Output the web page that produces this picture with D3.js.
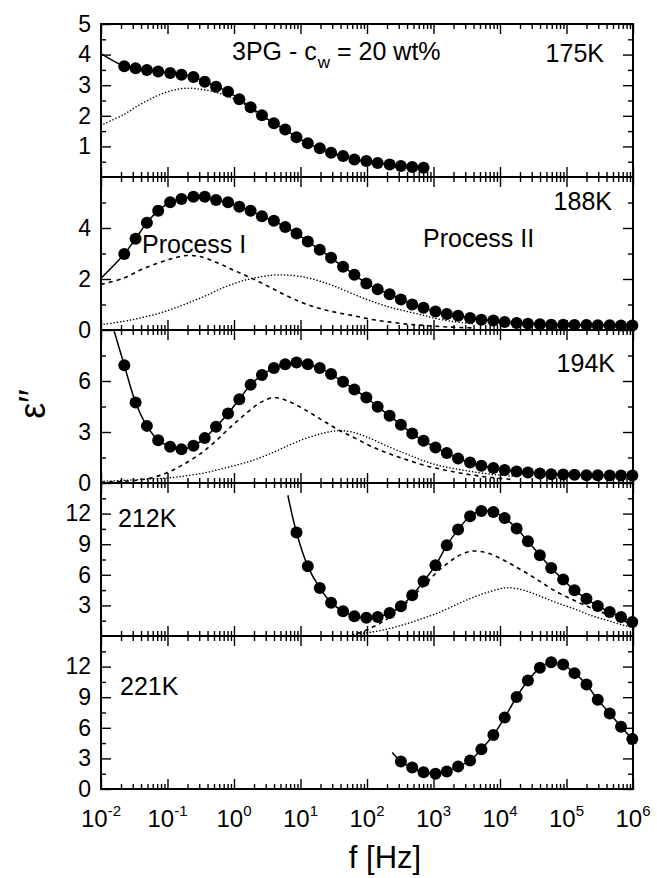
<!DOCTYPE html>
<html>
<head>
<meta charset="utf-8">
<script src="https://cdnjs.cloudflare.com/ajax/libs/d3/7.8.5/d3.min.js"></script>
<style>
  body { margin: 0; background: #fff; }
  svg { display: block; font-family: Arial, "Liberation Sans", Helvetica, sans-serif; }
</style>
</head>
<body>
<div id="wrapper"></div>
<script>
// DATA (frequencies as log10 f)
const logFreq = [-1.65, -1.48, -1.31, -1.14, -0.96, -0.79, -0.61, -0.44, -0.27, -0.09,
  0.08, 0.25, 0.42, 0.60, 0.77, 0.94, 1.11, 1.29, 1.46, 1.64,
  1.81, 1.99, 2.16, 2.34, 2.51, 2.68, 2.85, 3.03, 3.20, 3.37,
  3.55, 3.72, 3.90, 4.07, 4.25, 4.42, 4.60, 4.77, 4.95, 5.12,
  5.30, 5.47, 5.65, 5.82, 5.99];

const eps175 = [3.62, 3.55, 3.50, 3.45, 3.40, 3.34, 3.27, 3.11, 2.95, 2.79, 2.54, 2.28, 2.02, 1.76,
  1.55, 1.30, 1.10, 0.94, 0.79, 0.69, 0.57, 0.52, 0.46, 0.41, 0.36, 0.33, 0.30];
const eps188 = [2.98, 3.58, 4.21, 4.68, 5.01, 5.14, 5.23, 5.23, 5.10, 5.01, 4.83, 4.68, 4.46, 4.28,
  4.04, 3.78, 3.47, 3.15, 2.83, 2.48, 2.17, 1.82, 1.60, 1.40, 1.20, 1.00, 0.87, 0.73, 0.63, 0.56,
  0.47, 0.40, 0.37, 0.31, 0.27, 0.25, 0.23, 0.21, 0.21, 0.20, 0.20, 0.19, 0.19, 0.18, 0.18];
const eps194 = [6.93, 4.74, 3.36, 2.52, 2.13, 1.99, 2.19, 2.64, 3.31, 4.09, 4.93, 5.78, 6.35, 6.76,
  6.99, 7.09, 6.99, 6.76, 6.41, 5.95, 5.50, 5.03, 4.48, 3.95, 3.42, 2.91, 2.48, 2.09, 1.76, 1.44,
  1.21, 1.01, 0.88, 0.76, 0.68, 0.62, 0.56, 0.52, 0.50, 0.48, 0.46, 0.46, 0.44, 0.44, 0.44];
const eps212 = [10.14, 6.83, 4.71, 3.27, 2.43, 1.93, 1.80, 1.87, 2.26, 2.91, 3.99, 5.36, 6.93, 8.89,
  10.43, 11.74, 12.25, 12.16, 11.57, 10.53, 9.28, 7.91, 6.67, 5.53, 4.48, 3.66, 2.94, 2.35, 1.86, 1.37];
const eps221 = [2.69, 2.10, 1.65, 1.49, 1.71, 2.20, 2.79, 3.89, 5.29, 7.01, 9.02, 10.64, 11.88, 12.43,
  12.20, 11.36, 10.25, 8.76, 7.40, 6.10, 4.90];

// index into logFreq of the first point of each series
const firstIndex = [0, 0, 0, 15, 24];

// fit curves [log10 f, eps'']
const solidStart175 = [[-2.0, 4.03]];
const solidStart188 = [[-2.0, 2.03]];
const solidStart194 = [[-1.83, 9.3]];
const solidStart212 = [[0.81, 13.8]];
const solidStart221 = [[2.38, 3.57]];

const dotted175 = [[-2.0, 1.69], [-1.66, 2.04], [-1.41, 2.37], [-1.16, 2.65], [-0.91, 2.84], [-0.71, 2.90],
  [-0.51, 2.87], [-0.31, 2.79], [-0.11, 2.65], [0.08, 2.48], [0.25, 2.24], [0.5, 1.88], [1.0, 1.22],
  [1.5, 0.74], [2.0, 0.46], [2.5, 0.30], [2.85, 0.22]];

const dashed188 = [[-2.0, 1.79], [-1.66, 2.03], [-1.41, 2.35], [-1.16, 2.61], [-0.91, 2.82], [-0.71, 2.92],
  [-0.51, 2.88], [-0.26, 2.65], [-0.01, 2.35], [0.24, 2.06], [0.50, 1.73], [0.75, 1.40], [1.0, 1.10],
  [1.25, 0.87], [1.5, 0.71], [1.8, 0.56], [2.1, 0.40], [2.35, 0.31], [2.6, 0.23], [2.85, 0.18],
  [3.2, 0.12], [3.6, 0.08]];
const dotted188 = [[-2.0, 0.21], [-1.66, 0.34], [-1.41, 0.47], [-1.16, 0.63], [-0.91, 0.84], [-0.66, 1.09],
  [-0.41, 1.36], [-0.16, 1.66], [0.09, 1.90], [0.34, 2.06], [0.59, 2.15], [0.77, 2.16], [1.0, 2.10],
  [1.25, 1.95], [1.5, 1.73], [1.8, 1.40], [2.1, 1.10], [2.35, 0.89], [2.6, 0.73], [2.85, 0.58],
  [3.0, 0.47], [3.3, 0.33], [3.6, 0.24]];

const dashed194 = [[-2.0, 0.05], [-1.66, 0.10], [-1.3, 0.25], [-1.0, 0.62], [-0.8, 1.01], [-0.55, 1.60],
  [-0.3, 2.38], [-0.05, 3.30], [0.2, 4.15], [0.4, 4.74], [0.6, 5.03], [0.8, 4.84], [1.05, 4.35],
  [1.30, 3.76], [1.55, 3.17], [1.80, 2.68], [2.10, 2.09], [2.35, 1.70], [2.60, 1.36], [2.85, 1.05],
  [3.10, 0.82], [3.35, 0.62], [3.60, 0.46], [3.85, 0.33], [4.2, 0.20]];
const dotted194 = [[-2.0, 0.10], [-1.41, 0.20], [-0.91, 0.33], [-0.66, 0.46], [-0.41, 0.62], [-0.16, 0.86],
  [0.09, 1.11], [0.34, 1.41], [0.59, 1.80], [0.84, 2.25], [1.09, 2.64], [1.34, 2.93], [1.55, 3.07],
  [1.75, 3.02], [2.0, 2.70], [2.35, 2.09], [2.60, 1.70], [2.85, 1.31], [3.10, 1.01], [3.35, 0.82],
  [3.6, 0.66], [3.9, 0.50], [4.2, 0.40]];

const dashed212 = [[1.85, 0.25], [2.03, 0.70], [2.25, 1.45], [2.50, 2.70], [2.70, 3.95], [2.90, 5.25],
  [3.10, 6.55], [3.30, 7.55], [3.45, 8.10], [3.61, 8.33], [3.81, 8.14], [4.06, 7.42], [4.31, 6.51],
  [4.56, 5.53], [4.81, 4.48], [5.06, 3.66], [5.31, 2.91], [5.56, 2.26], [5.81, 1.61], [6.0, 1.10]];
const dotted212 = [[1.8, 0.15], [2.08, 0.39], [2.35, 0.75], [2.60, 1.21], [2.85, 1.75], [3.10, 2.35],
  [3.35, 3.10], [3.61, 3.82], [3.86, 4.38], [4.11, 4.74], [4.36, 4.48], [4.61, 3.89], [4.86, 3.24],
  [5.11, 2.68], [5.36, 2.03], [5.61, 1.54], [5.86, 1.05], [6.0, 0.82]];

// AXES / LABELS
const temps = [`175K`, `188K`, `194K`, `212K`, `221K`];
const yMax = [5, 6, 9, 15, 15];
const yMajorTicks = [[1, 2, 3, 4, 5], [0, 2, 4], [0, 3, 6], [3, 6, 9, 12], [0, 3, 6, 9, 12]];
const yMinorTicks = [[0.5, 1.5, 2.5, 3.5, 4.5], [1, 3, 5], [1.5, 4.5, 7.5],
  [1.5, 4.5, 7.5, 10.5, 13.5], [1.5, 4.5, 7.5, 10.5, 13.5]];
const decades = [-2, -1, 0, 1, 2, 3, 4, 5, 6];

const seriesValues = [eps175, eps188, eps194, eps212, eps221];
const solidStarts = [solidStart175, solidStart188, solidStart194, solidStart212, solidStart221];
const dashedFits = [null, dashed188, dashed194, dashed212, null];
const dottedFits = [dotted175, dotted188, dotted194, dotted212, null];

// LAYOUT
const W = 657;
const H = 878;
const plotLeft = 101;
const plotRight = 633;
const plotTop = 24;
const panelHeight = 153;

// panel annotations: x, baseline offset from panel top, anchor
const tempLabelPos = [
  { x: 604, dy: 38, anchor: `end` },
  { x: 612, dy: 33, anchor: `end` },
  { x: 615, dy: 42, anchor: `end` },
  { x: 118, dy: 44, anchor: `start` },
  { x: 120, dy: 59, anchor: `start` }
];

const svg = d3.select(`#wrapper`)
  .append(`svg`)
  .attr(`width`, W)
  .attr(`height`, H);

const xScale = d3.scaleLog()
  .domain([1e-2, 1e6])
  .range([plotLeft, plotRight]);

const xMajor = decades.map(d => Math.pow(10, d));
const xMinor = xScale.ticks().filter(t => !xMajor.some(m => Math.abs(m - t) / m < 1e-6));

const styleTicks = g => {
  g.select(`.domain`).remove();
  g.selectAll(`.tick line`).attr(`stroke`, `#000`).attr(`stroke-width`, 1.4);
};

const styleYLabels = g => {
  g.selectAll(`.tick text`)
    .attr(`fill`, `#000`)
    .attr(`font-size`, 23)
    .attr(`font-family`, `Arial, "Liberation Sans", Helvetica, sans-serif`);
};

seriesValues.forEach((values, i) => {
  const top = plotTop + i * panelHeight;
  const bottom = top + panelHeight;
  const yScale = d3.scaleLinear().domain([0, yMax[i]]).range([bottom, top]);
  const g = svg.append(`g`).attr(`class`, `panel`);

  g.append(`clipPath`)
    .attr(`id`, `clip-${i}`)
    .append(`rect`)
    .attr(`x`, plotLeft)
    .attr(`y`, top)
    .attr(`width`, plotRight - plotLeft)
    .attr(`height`, panelHeight);

  // x ticks, top and bottom, pointing inward
  g.append(`g`).attr(`transform`, `translate(0, ${bottom})`)
    .call(d3.axisBottom(xScale).tickValues(xMajor).tickSize(-10).tickFormat(``)).call(styleTicks);
  g.append(`g`).attr(`transform`, `translate(0, ${bottom})`)
    .call(d3.axisBottom(xScale).tickValues(xMinor).tickSize(-5).tickFormat(``)).call(styleTicks);
  g.append(`g`).attr(`transform`, `translate(0, ${top})`)
    .call(d3.axisTop(xScale).tickValues(xMajor).tickSize(-10).tickFormat(``)).call(styleTicks);
  g.append(`g`).attr(`transform`, `translate(0, ${top})`)
    .call(d3.axisTop(xScale).tickValues(xMinor).tickSize(-5).tickFormat(``)).call(styleTicks);

  // y ticks, left with labels, right mirrored
  g.append(`g`).attr(`transform`, `translate(${plotLeft}, 0)`)
    .call(d3.axisLeft(yScale).tickValues(yMajorTicks[i]).tickSize(-10).tickPadding(10).tickFormat(d3.format(`d`)))
    .call(styleTicks).call(styleYLabels);
  g.append(`g`).attr(`transform`, `translate(${plotLeft}, 0)`)
    .call(d3.axisLeft(yScale).tickValues(yMinorTicks[i]).tickSize(-5).tickFormat(``)).call(styleTicks);
  g.append(`g`).attr(`transform`, `translate(${plotRight}, 0)`)
    .call(d3.axisRight(yScale).tickValues(yMajorTicks[i]).tickSize(-10).tickFormat(``)).call(styleTicks);
  g.append(`g`).attr(`transform`, `translate(${plotRight}, 0)`)
    .call(d3.axisRight(yScale).tickValues(yMinorTicks[i]).tickSize(-5).tickFormat(``)).call(styleTicks);

  const line = d3.line()
    .x(d => xScale(Math.pow(10, d[0])))
    .y(d => yScale(d[1]))
    .curve(d3.curveCatmullRom.alpha(0.5));

  const points = values.map((v, k) => [logFreq[firstIndex[i] + k], v]);
  const lines = g.append(`g`).attr(`clip-path`, `url(#clip-${i})`);

  if (dottedFits[i]) {
    lines.append(`path`)
      .attr(`d`, line(dottedFits[i]))
      .attr(`fill`, `none`)
      .attr(`stroke`, `#000`)
      .attr(`stroke-width`, 1.5)
      .attr(`stroke-linecap`, `round`)
      .attr(`stroke-dasharray`, `0.1,3.2`);
  }
  if (dashedFits[i]) {
    lines.append(`path`)
      .attr(`d`, line(dashedFits[i]))
      .attr(`fill`, `none`)
      .attr(`stroke`, `#000`)
      .attr(`stroke-width`, 1.6)
      .attr(`stroke-dasharray`, `4,4`);
  }
  lines.append(`path`)
    .attr(`d`, line(solidStarts[i].concat(points)))
    .attr(`fill`, `none`)
    .attr(`stroke`, `#000`)
    .attr(`stroke-width`, 1.5);

  g.selectAll(`.pt`)
    .data(points)
    .enter()
    .append(`circle`)
    .attr(`class`, `pt`)
    .attr(`cx`, d => xScale(Math.pow(10, d[0])))
    .attr(`cy`, d => yScale(d[1]))
    .attr(`r`, 6)
    .attr(`fill`, `#000`);

  g.append(`rect`)
    .attr(`x`, plotLeft)
    .attr(`y`, top)
    .attr(`width`, plotRight - plotLeft)
    .attr(`height`, panelHeight)
    .attr(`fill`, `none`)
    .attr(`stroke`, `#000`)
    .attr(`stroke-width`, 2);

  const pos = tempLabelPos[i];
  g.append(`text`)
    .attr(`x`, pos.x)
    .attr(`y`, top + pos.dy)
    .attr(`text-anchor`, pos.anchor)
    .attr(`font-size`, 25)
    .text(temps[i]);
});

// ANNOTATIONS
const title = svg.append(`text`)
  .attr(`y`, 60)
  .attr(`font-size`, 25);
title.append(`tspan`).attr(`x`, 232).text(`3PG - c`);
title.append(`tspan`).attr(`dx`, 1).attr(`dy`, 8).attr(`font-size`, 17).text(`w`);
title.append(`tspan`).attr(`dx`, 7).attr(`dy`, -8).text(`= 20 wt%`);

svg.append(`text`)
  .attr(`x`, 142)
  .attr(`y`, plotTop + panelHeight + 76)
  .attr(`font-size`, 25)
  .text(`Process I`);

svg.append(`text`)
  .attr(`x`, 423)
  .attr(`y`, plotTop + panelHeight + 70)
  .attr(`font-size`, 25)
  .text(`Process II`);

// x tick labels 10^n
const bottomY = plotTop + 5 * panelHeight;
const xLabels = svg.append(`g`)
  .selectAll(`text`)
  .data(decades)
  .enter()
  .append(`text`)
  .attr(`x`, d => xScale(Math.pow(10, d)))
  .attr(`y`, bottomY + 38)
  .attr(`text-anchor`, `middle`)
  .attr(`font-size`, 24);
xLabels.append(`tspan`).text(`10`);
xLabels.append(`tspan`).attr(`dy`, -11).attr(`font-size`, 15).text(d => d);

svg.append(`text`)
  .attr(`x`, 385)
  .attr(`y`, 868)
  .attr(`text-anchor`, `middle`)
  .attr(`font-size`, 31)
  .text(`f [Hz]`);

svg.append(`text`)
  .attr(`transform`, `translate(45, 404) rotate(-90)`)
  .attr(`text-anchor`, `middle`)
  .attr(`font-size`, 36)
  .text(`ε′′`);
</script>
</body>
</html>
